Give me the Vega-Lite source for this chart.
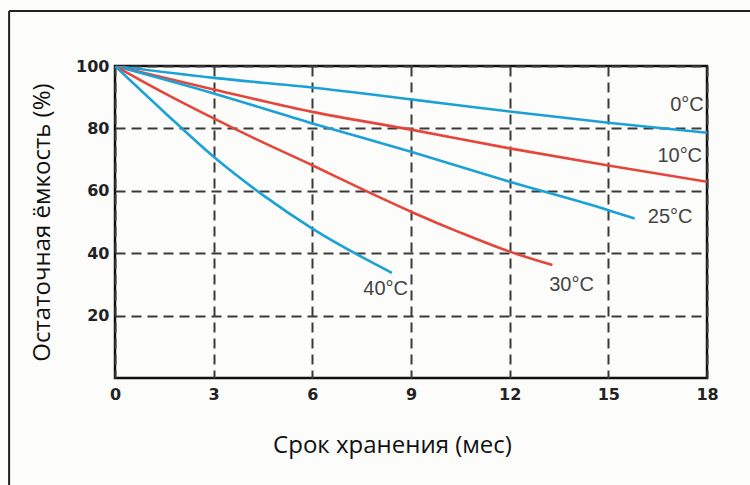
{
  "$schema": "https://vega.github.io/schema/vega-lite/v6.json",
  "width": 592,
  "height": 312,
  "autosize": "none",
  "padding": {"left": 115, "top": 66, "right": 43, "bottom": 107},
  "background": "#fcfcfa",
  "config": {
    "view": {"stroke": "#111111", "strokeWidth": 2.5},
    "axis": {
      "labelFont": "DejaVu Sans",
      "labelFontWeight": "bold",
      "labelFontSize": 16,
      "labelColor": "#222222",
      "labelFlush": false,
      "titleFont": "Open Sans",
      "titleFontWeight": "normal",
      "titleFontSize": 24,
      "titleColor": "#111111",
      "domain": false,
      "ticks": false,
      "grid": true,
      "gridColor": "#3a3a3a",
      "gridWidth": 2,
      "gridDash": [10, 6],
      "gridOpacity": 1
    }
  },
  "datasets": {
    "curves": [
      {"temp": "0°C", "month": 0, "capacity": 100},
      {"temp": "0°C", "month": 3, "capacity": 96.2},
      {"temp": "0°C", "month": 6, "capacity": 93.1},
      {"temp": "0°C", "month": 9, "capacity": 89.3},
      {"temp": "0°C", "month": 12, "capacity": 85.4},
      {"temp": "0°C", "month": 15, "capacity": 81.8},
      {"temp": "0°C", "month": 18, "capacity": 78.6},
      {"temp": "10°C", "month": 0, "capacity": 100},
      {"temp": "10°C", "month": 3, "capacity": 92.5},
      {"temp": "10°C", "month": 6, "capacity": 85.3},
      {"temp": "10°C", "month": 9, "capacity": 79.6},
      {"temp": "10°C", "month": 12, "capacity": 73.6},
      {"temp": "10°C", "month": 15, "capacity": 68.1},
      {"temp": "10°C", "month": 18, "capacity": 62.9},
      {"temp": "25°C", "month": 0, "capacity": 100},
      {"temp": "25°C", "month": 3, "capacity": 91.2},
      {"temp": "25°C", "month": 6, "capacity": 81.6},
      {"temp": "25°C", "month": 9, "capacity": 72.5},
      {"temp": "25°C", "month": 12, "capacity": 62.9},
      {"temp": "25°C", "month": 15, "capacity": 53.8},
      {"temp": "25°C", "month": 15.8, "capacity": 51.1},
      {"temp": "30°C", "month": 0, "capacity": 100},
      {"temp": "30°C", "month": 1.5, "capacity": 91.3},
      {"temp": "30°C", "month": 3, "capacity": 83.2},
      {"temp": "30°C", "month": 4.5, "capacity": 75.5},
      {"temp": "30°C", "month": 6, "capacity": 68.2},
      {"temp": "30°C", "month": 7.5, "capacity": 60.6},
      {"temp": "30°C", "month": 9, "capacity": 53.3},
      {"temp": "30°C", "month": 10.5, "capacity": 46.6},
      {"temp": "30°C", "month": 12, "capacity": 40.5},
      {"temp": "30°C", "month": 13.3, "capacity": 36.2},
      {"temp": "40°C", "month": 0, "capacity": 100},
      {"temp": "40°C", "month": 1.5, "capacity": 85.2},
      {"temp": "40°C", "month": 3, "capacity": 70.9},
      {"temp": "40°C", "month": 4.5, "capacity": 58.6},
      {"temp": "40°C", "month": 6, "capacity": 47.9},
      {"temp": "40°C", "month": 7.5, "capacity": 38.8},
      {"temp": "40°C", "month": 8.42, "capacity": 33.7}
    ],
    "labels": [
      {"label": "0°C", "month": 17.9, "capacity": 87.5, "anchor": "right"},
      {"label": "10°C", "month": 17.85, "capacity": 71, "anchor": "right"},
      {"label": "25°C", "month": 16.2, "capacity": 51.5, "anchor": "left"},
      {"label": "30°C", "month": 13.2, "capacity": 29.7, "anchor": "left"},
      {"label": "40°C", "month": 7.55, "capacity": 28.5, "anchor": "left"}
    ],
    "frame": [{}]
  },
  "layer": [
    {
      "data": {"name": "curves"},
      "mark": {"type": "line", "interpolate": "monotone", "strokeWidth": 2.6, "clip": true},
      "encoding": {
        "x": {
          "field": "month",
          "type": "quantitative",
          "scale": {"domain": [0, 18], "nice": false, "zero": false},
          "axis": {
            "values": [0, 3, 6, 9, 12, 15, 18],
            "labelPadding": 8,
            "title": "Срок хранения (мес)",
            "titleX": 277,
            "titleY": 74,
            "titleAlign": "center",
            "titleBaseline": "alphabetic"
          }
        },
        "y": {
          "field": "capacity",
          "type": "quantitative",
          "scale": {"domain": [0, 100], "nice": false},
          "axis": {
            "values": [20, 40, 60, 80, 100],
            "labelPadding": 6,
            "title": "Остаточная ёмкость (%)",
            "titleX": -73,
            "titleY": 156,
            "titleAngle": -90,
            "titleAlign": "center",
            "titleBaseline": "middle"
          }
        },
        "color": {
          "field": "temp",
          "type": "nominal",
          "scale": {
            "domain": ["0°C", "10°C", "25°C", "30°C", "40°C"],
            "range": ["#1ba1d6", "#e5463b", "#1ba1d6", "#e5463b", "#1ba1d6"]
          },
          "legend": null
        },
        "detail": {"field": "temp"}
      }
    },
    {
      "data": {"name": "labels"},
      "transform": [{"filter": "datum.anchor == 'right'"}],
      "mark": {"type": "text", "align": "right", "baseline": "middle", "font": "Liberation Sans", "fontSize": 20, "color": "#444444"},
      "encoding": {
        "x": {"field": "month", "type": "quantitative"},
        "y": {"field": "capacity", "type": "quantitative"},
        "text": {"field": "label"}
      }
    },
    {
      "data": {"name": "labels"},
      "transform": [{"filter": "datum.anchor == 'left'"}],
      "mark": {"type": "text", "align": "left", "baseline": "middle", "font": "Liberation Sans", "fontSize": 20, "color": "#444444"},
      "encoding": {
        "x": {"field": "month", "type": "quantitative"},
        "y": {"field": "capacity", "type": "quantitative"},
        "text": {"field": "label"}
      }
    },
    {
      "data": {"name": "frame"},
      "mark": {"type": "rule", "color": "#222222", "strokeWidth": 2, "clip": false},
      "encoding": {
        "x": {"datum": -3.22},
        "x2": {"datum": 19.8},
        "y": {"datum": 117.6}
      }
    },
    {
      "data": {"name": "frame"},
      "mark": {"type": "rule", "color": "#222222", "strokeWidth": 2, "clip": false},
      "encoding": {
        "x": {"datum": -3.22},
        "y": {"datum": 117.6},
        "y2": {"datum": -40}
      }
    }
  ]
}
